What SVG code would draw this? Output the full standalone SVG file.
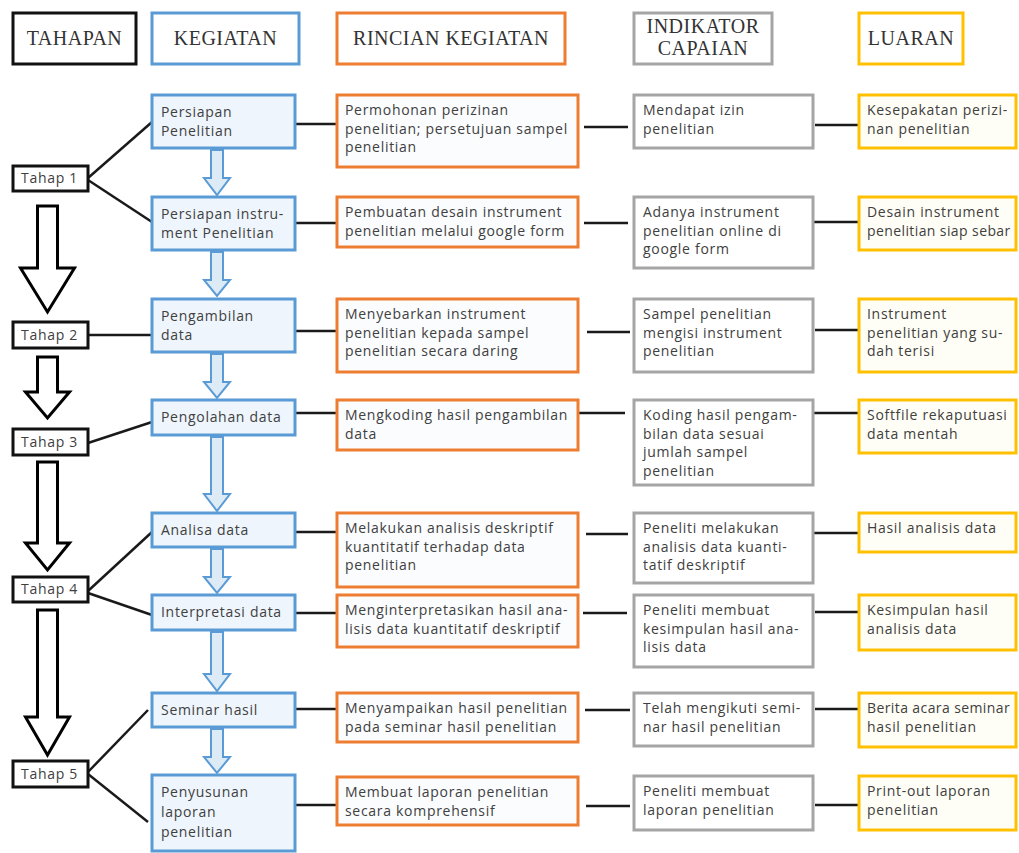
<svg xmlns="http://www.w3.org/2000/svg" width="1019" height="853" viewBox="0 0 1019 853">
<style>
.t{fill:#fff;stroke:#111;stroke-width:3}
.k{fill:#EEF5FC;stroke:#5B9BD5;stroke-width:3}
.r{fill:#FBFCFE;stroke:#ED7D31;stroke-width:3}
.i{fill:#fff;stroke:#A5A5A5;stroke-width:3}
.l{fill:#FFFEF6;stroke:#FFC000;stroke-width:3}
.hd{font-family:"Liberation Serif",serif;font-size:20px;fill:#333;text-anchor:middle;letter-spacing:0.5px}
.b{font-family:"Open Sans",sans-serif;font-size:14px;fill:#404040;letter-spacing:0.7px}
.n{letter-spacing:0.4px}
.c{stroke:#1a1a1a;stroke-width:2.5;fill:none}
.ba{fill:#fff;stroke:#000;stroke-width:3;stroke-linejoin:miter}
.sa{fill:#DDEBF7;stroke:#5B9BD5;stroke-width:2}
</style>

<g id="headers">
<g id="h-tahapan"><rect class="t" x="13" y="13" width="123" height="51"/><text class="hd" x="74.5" y="45">TAHAPAN</text></g>
<g id="h-kegiatan"><rect class="k" x="152" y="13" width="147" height="51" style="fill:#fff"/><text class="hd" x="225.5" y="45">KEGIATAN</text></g>
<g id="h-rincian"><rect class="r" x="337" y="13" width="228" height="51" style="fill:#fff"/><text class="hd" x="451" y="45">RINCIAN KEGIATAN</text></g>
<g id="h-indikator"><rect class="i" x="634" y="13" width="138" height="51"/><text class="hd" x="703" y="33">INDIKATOR</text><text class="hd" x="703" y="55">CAPAIAN</text></g>
<g id="h-luaran"><rect class="l" x="859" y="13" width="104" height="51" style="fill:#fff"/><text class="hd" x="911" y="45">LUARAN</text></g>
</g>

<g id="connectors">
<line class="c" x1="88" y1="178" x2="152" y2="122"/>
<line class="c" x1="88" y1="180" x2="152" y2="222"/>
<line class="c" x1="88" y1="335" x2="152" y2="335"/>
<line class="c" x1="88" y1="443" x2="152" y2="422"/>
<line class="c" x1="88" y1="591" x2="152" y2="532"/>
<line class="c" x1="88" y1="593" x2="152" y2="615"/>
<line class="c" x1="88" y1="772" x2="148" y2="710"/>
<line class="c" x1="88" y1="774" x2="148" y2="822"/>

<line class="c" x1="295" y1="124" x2="337" y2="124"/>
<line class="c" x1="295" y1="223" x2="337" y2="223"/>
<line class="c" x1="295" y1="331" x2="337" y2="331"/>
<line class="c" x1="295" y1="413" x2="337" y2="413"/>
<line class="c" x1="295" y1="532" x2="337" y2="532"/>
<line class="c" x1="295" y1="613" x2="337" y2="613"/>
<line class="c" x1="295" y1="709" x2="337" y2="709"/>
<line class="c" x1="295" y1="805" x2="337" y2="805"/>

<line class="c" x1="584" y1="127" x2="628" y2="127"/>
<line class="c" x1="584" y1="223" x2="628" y2="223"/>
<line class="c" x1="587" y1="332" x2="630" y2="332"/>
<line class="c" x1="578" y1="413" x2="625" y2="413"/>
<line class="c" x1="586" y1="534" x2="628" y2="534"/>
<line class="c" x1="583" y1="613" x2="627" y2="613"/>
<line class="c" x1="585" y1="710" x2="630" y2="710"/>
<line class="c" x1="586" y1="806" x2="630" y2="806"/>

<line class="c" x1="815" y1="125" x2="858" y2="125"/>
<line class="c" x1="813" y1="222" x2="858" y2="222"/>
<line class="c" x1="815" y1="330" x2="858" y2="330"/>
<line class="c" x1="813" y1="413" x2="858" y2="413"/>
<line class="c" x1="813" y1="533" x2="858" y2="533"/>
<line class="c" x1="815" y1="612" x2="858" y2="612"/>
<line class="c" x1="815" y1="709" x2="858" y2="709"/>
<line class="c" x1="815" y1="805" x2="858" y2="805"/>
</g>

<g id="stage-arrows">
<path class="ba" d="M37.5,206 H57.5 V268 H74.5 L47.5,312 L20.5,268 H37.5 Z"/>
<path class="ba" d="M37.5,357 H57.5 V392 H69.5 L47.5,418 L25.5,392 H37.5 Z"/>
<path class="ba" d="M37.5,462 H57.5 V543 H69.5 L47.5,570 L25.5,543 H37.5 Z"/>
<path class="ba" d="M37.5,610 H57.5 V717 H69.5 L47.5,755 L25.5,717 H37.5 Z"/>
</g>

<g id="flow-arrows">
<path class="sa" d="M211,150 H223 V178 H230 L217,195 L204,178 H211 Z"/>
<path class="sa" d="M211,252 H223 V280 H230 L217,296 L204,280 H211 Z"/>
<path class="sa" d="M211,354 H223 V382 H230 L217,398 L204,382 H211 Z"/>
<path class="sa" d="M211,437 H223 V494 H230 L217,511 L204,494 H211 Z"/>
<path class="sa" d="M211,549 H223 V577 H230 L217,593 L204,577 H211 Z"/>
<path class="sa" d="M211,632 H223 V674 H230 L217,691 L204,674 H211 Z"/>
<path class="sa" d="M211,729 H223 V757 H230 L217,773 L204,757 H211 Z"/>
</g>

<g id="tahap1"><rect class="t" x="13" y="166" width="75" height="25"/><text class="b" x="21" y="183">Tahap 1</text></g>
<g id="tahap2"><rect class="t" x="13" y="322" width="75" height="26"/><text class="b" x="21" y="340">Tahap 2</text></g>
<g id="tahap3"><rect class="t" x="13" y="429" width="75" height="26"/><text class="b" x="21" y="447">Tahap 3</text></g>
<g id="tahap4"><rect class="t" x="13" y="577" width="75" height="25"/><text class="b" x="21" y="594">Tahap 4</text></g>
<g id="tahap5"><rect class="t" x="13" y="761" width="75" height="26"/><text class="b" x="21" y="779">Tahap 5</text></g>

<g id="k1"><rect class="k" x="152" y="95" width="143" height="53"/><text class="b" x="161"><tspan x="161" y="117">Persiapan</tspan><tspan x="161" y="136">Penelitian</tspan></text></g>
<g id="k2"><rect class="k" x="152" y="197" width="143" height="53"/><text class="b"><tspan x="161" y="219">Persiapan instru-</tspan><tspan x="161" y="238">ment Penelitian</tspan></text></g>
<g id="k3"><rect class="k" x="152" y="299" width="143" height="53"/><text class="b"><tspan x="161" y="321">Pengambilan</tspan><tspan x="161" y="340">data</tspan></text></g>
<g id="k4"><rect class="k" x="152" y="400" width="143" height="35"/><text class="b" x="161" y="422">Pengolahan data</text></g>
<g id="k5"><rect class="k" x="152" y="513" width="143" height="34"/><text class="b" x="161" y="535">Analisa data</text></g>
<g id="k6"><rect class="k" x="152" y="595" width="143" height="35"/><text class="b" x="161" y="617">Interpretasi data</text></g>
<g id="k7"><rect class="k" x="152" y="693" width="143" height="34"/><text class="b" x="161" y="715">Seminar hasil</text></g>
<g id="k8"><rect class="k" x="152" y="775" width="143" height="76"/><text class="b"><tspan x="161" y="797">Penyusunan</tspan><tspan x="161" y="817">laporan</tspan><tspan x="161" y="837">penelitian</tspan></text></g>

<g id="r1"><rect class="r" x="337" y="95" width="241" height="72"/><text class="b"><tspan x="345" y="115">Permohonan perizinan</tspan><tspan x="345" y="133.5">penelitian; persetujuan sampel</tspan><tspan x="345" y="152">penelitian</tspan></text></g>
<g id="r2"><rect class="r" x="337" y="197" width="241" height="50"/><text class="b"><tspan x="345" y="217">Pembuatan desain instrument</tspan><tspan x="345" y="235.5">penelitian melalui google form</tspan></text></g>
<g id="r3"><rect class="r" x="337" y="299" width="241" height="73"/><text class="b"><tspan x="345" y="319">Menyebarkan instrument</tspan><tspan x="345" y="337.5">penelitian kepada sampel</tspan><tspan x="345" y="356">penelitian secara daring</tspan></text></g>
<g id="r4"><rect class="r" x="337" y="400" width="241" height="50"/><text class="b"><tspan x="345" y="420">Mengkoding hasil pengambilan</tspan><tspan x="345" y="438.5">data</tspan></text></g>
<g id="r5"><rect class="r" x="337" y="513" width="241" height="74"/><text class="b"><tspan x="345" y="533">Melakukan analisis deskriptif</tspan><tspan x="345" y="551.5">kuantitatif terhadap data</tspan><tspan x="345" y="570">penelitian</tspan></text></g>
<g id="r6"><rect class="r" x="337" y="595" width="241" height="52"/><text class="b"><tspan x="345" y="615">Menginterpretasikan hasil ana-</tspan><tspan x="345" y="633.5">lisis data kuantitatif deskriptif</tspan></text></g>
<g id="r7"><rect class="r" x="337" y="693" width="241" height="49"/><text class="b"><tspan x="345" y="713">Menyampaikan hasil penelitian</tspan><tspan x="345" y="731.5">pada seminar hasil penelitian</tspan></text></g>
<g id="r8"><rect class="r" x="337" y="777" width="241" height="48"/><text class="b"><tspan x="345" y="797">Membuat laporan penelitian</tspan><tspan x="345" y="815.5">secara komprehensif</tspan></text></g>

<g id="i1"><rect class="i" x="634" y="95" width="179" height="53"/><text class="b"><tspan x="643" y="115">Mendapat izin</tspan><tspan x="643" y="133.5">penelitian</tspan></text></g>
<g id="i2"><rect class="i" x="634" y="197" width="179" height="71"/><text class="b"><tspan x="643" y="217">Adanya instrument</tspan><tspan x="643" y="235.5">penelitian online di</tspan><tspan x="643" y="254">google form</tspan></text></g>
<g id="i3"><rect class="i" x="634" y="299" width="179" height="73"/><text class="b"><tspan x="643" y="319">Sampel penelitian</tspan><tspan x="643" y="337.5">mengisi instrument</tspan><tspan x="643" y="356">penelitian</tspan></text></g>
<g id="i4"><rect class="i" x="634" y="400" width="179" height="85"/><text class="b"><tspan x="643" y="420">Koding hasil pengam-</tspan><tspan x="643" y="438.5">bilan data sesuai</tspan><tspan x="643" y="457">jumlah sampel</tspan><tspan x="643" y="475.5">penelitian</tspan></text></g>
<g id="i5"><rect class="i" x="634" y="513" width="179" height="70"/><text class="b"><tspan x="643" y="533">Peneliti melakukan</tspan><tspan x="643" y="551.5">analisis data kuanti-</tspan><tspan x="643" y="570">tatif deskriptif</tspan></text></g>
<g id="i6"><rect class="i" x="634" y="595" width="179" height="72"/><text class="b"><tspan x="643" y="615">Peneliti membuat</tspan><tspan x="643" y="633.5">kesimpulan hasil ana-</tspan><tspan x="643" y="652">lisis data</tspan></text></g>
<g id="i7"><rect class="i" x="634" y="693" width="179" height="53"/><text class="b"><tspan x="643" y="713">Telah mengikuti semi-</tspan><tspan x="643" y="731.5">nar hasil penelitian</tspan></text></g>
<g id="i8"><rect class="i" x="634" y="776" width="179" height="54"/><text class="b"><tspan x="643" y="796">Peneliti membuat</tspan><tspan x="643" y="814.5">laporan penelitian</tspan></text></g>

<g id="l1"><rect class="l" x="859" y="95" width="157" height="53"/><text class="b"><tspan x="867" y="115">Kesepakatan perizi-</tspan><tspan x="867" y="133.5">nan penelitian</tspan></text></g>
<g id="l2"><rect class="l" x="859" y="197" width="157" height="53"/><text class="b"><tspan x="867" y="217">Desain instrument</tspan><tspan class="n" x="867" y="235.5">penelitian siap sebar</tspan></text></g>
<g id="l3"><rect class="l" x="859" y="299" width="157" height="73"/><text class="b"><tspan x="867" y="319">Instrument</tspan><tspan x="867" y="337.5">penelitian yang su-</tspan><tspan x="867" y="356">dah terisi</tspan></text></g>
<g id="l4"><rect class="l" x="859" y="400" width="157" height="53"/><text class="b"><tspan x="867" y="420">Softfile rekaputuasi</tspan><tspan x="867" y="438.5">data mentah</tspan></text></g>
<g id="l5"><rect class="l" x="859" y="513" width="157" height="39"/><text class="b" x="867" y="533">Hasil analisis data</text></g>
<g id="l6"><rect class="l" x="859" y="595" width="157" height="55"/><text class="b"><tspan x="867" y="615">Kesimpulan hasil</tspan><tspan x="867" y="633.5">analisis data</tspan></text></g>
<g id="l7"><rect class="l" x="859" y="693" width="157" height="54"/><text class="b"><tspan class="n" x="867" y="713">Berita acara seminar</tspan><tspan x="867" y="731.5">hasil penelitian</tspan></text></g>
<g id="l8"><rect class="l" x="859" y="776" width="157" height="54"/><text class="b"><tspan x="867" y="796">Print-out laporan</tspan><tspan x="867" y="814.5">penelitian</tspan></text></g>
</svg>
